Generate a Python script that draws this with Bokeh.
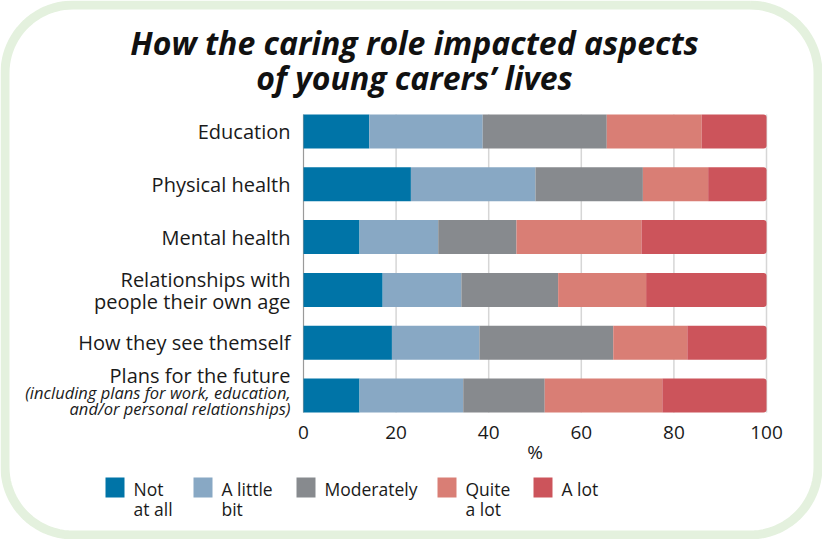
import numpy as np
from bokeh.plotting import figure
from bokeh.models import ColumnDataSource, Range1d
from bokeh.core.properties import value, field
from bokeh.embed import file_html
from bokeh.resources import INLINE

# ---------------- data ----------------
categories = ["Education", "Physical health", "Mental health",
              "Relationships with people their own age",
              "How they see themself", "Plans for the future"]
not_at_all = [14.2, 23.2, 12.1, 17.1, 19.1, 12.1]
a_little_bit = [24.5, 26.9, 17.0, 17.0, 18.9, 22.4]
moderately = [26.8, 23.2, 16.9, 20.9, 28.9, 17.6]
quite_a_lot = [20.5, 14.1, 27.0, 19.0, 16.0, 25.4]
a_lot = [14.0, 12.6, 27.0, 26.0, 17.1, 22.5]
series_keys = ["not_at_all", "a_little_bit", "moderately", "quite_a_lot", "a_lot"]
series_labels = ["Not\nat all", "A little\nbit", "Moderately", "Quite\na lot", "A lot"]
colors = ["#0074a7", "#88a8c4", "#878a8e", "#d97e75", "#cc545b"]
x_ticks = [0, 20, 40, 60, 80, 100]
x_label = "%"
title_lines = ["How the caring role impacted aspects", "of young carers\u2019 lives"]
label_lines = [
    [("Education", "normal")],
    [("Physical health", "normal")],
    [("Mental health", "normal")],
    [("Relationships with", "normal"), ("people their own age", "normal")],
    [("How they see themself", "normal")],
    [("Plans for the future", "normal"),
     ("(including plans for work, education,", "italic"),
     ("and/or personal relationships)", "italic")],
]

# ---------------- layout (pixels inside the 822x539 canvas) ----------------
W, H = 822, 539
FL, FR = 303, 766          # x=0 and x=100
FT, FH = 114, 298          # top of first bar, height of bar block
BAR_H = 0.644
n = len(categories)
y_lo, y_hi = 1 - BAR_H / 2, n + BAR_H / 2
PXX = (FR - FL) / 100.0
PXY = FH / (y_hi - y_lo)
FONT = "Open Sans"
TXT = "#1a1a1a"
LEG_SWATCH_X = [105, 193, 296, 437, 533]   # left edge of each legend swatch (px)
LEG_TOP = 477                               # top of legend swatches (px)
SW = 19


def dx(px):
    return (px - FL) / PXX


def dy(py):
    return y_hi + (FT - py) / PXY


ys = list(range(n, 0, -1))
src = ColumnDataSource(dict(y=ys, not_at_all=not_at_all, a_little_bit=a_little_bit,
                            moderately=moderately, quite_a_lot=quite_a_lot, a_lot=a_lot))

p = figure(width=W, height=H, x_range=Range1d(dx(0), dx(W)), y_range=Range1d(dy(H), dy(0)),
           output_backend="svg", toolbar_location=None,
           x_axis_location=None, y_axis_location=None, min_border=0)
p.outline_line_color = None
p.xgrid.visible = False
p.ygrid.visible = False

# grid lines over the bar block only
p.segment(x0=x_ticks, y0=[y_lo] * len(x_ticks), x1=x_ticks, y1=[y_hi] * len(x_ticks),
          line_color="#d6d6d6", line_width=1.5)
p.segment(x0=[0], y0=[y_lo], x1=[0], y1=[y_hi], line_color="#9a9a9a", line_width=1)

rends = p.hbar_stack(series_keys, y="y", height=BAR_H, color=colors, source=src, line_width=0)
if "border_radius" in rends[-1].glyph.properties():
    rends[-1].glyph.border_radius = (0, 3, 3, 0)

# x tick labels and axis title
p.text(x=x_ticks, y=[dy(432)] * len(x_ticks), text=[str(t) for t in x_ticks],
       text_align="center", text_baseline="middle", text_font=value(FONT),
       text_font_size="19px", text_color=TXT)
p.text(x=[50], y=[dy(451)], text=[x_label], text_align="center", text_baseline="middle",
       text_font=value(FONT), text_font_size="19px", text_color=TXT)

# category labels
offsets = {1: [0.0], 2: [10.5, -11.5], 3: [19.5, 3.0, -13.0]}
lx, ly, lt, ls, lf = [], [], [], [], []
for yc, lines in zip(ys, label_lines):
    for (txt, style), o in zip(lines, offsets[len(lines)]):
        lx.append(dx(FL - 13))
        ly.append(yc + o / PXY)
        lt.append(txt)
        ls.append(style)
        lf.append("20px" if style == "normal" else "16.5px")
lab_src = ColumnDataSource(dict(x=lx, y=ly, text=lt, style=ls, size=lf))
p.text(x="x", y="y", text="text", source=lab_src, text_align="right",
       text_baseline="middle", text_font=value(FONT), text_font_size=field("size"),
       text_font_style=field("style"), text_color=TXT)

# title
p.text(x=[dx(414)] * 2, y=[dy(42), dy(77)], text=title_lines, text_align="center",
       text_baseline="middle", text_font=value(FONT), text_font_size="32px",
       text_font_style="bold italic", text_color="#111111")

# legend (swatch + label whose first line is level with the swatch)
leg_src = ColumnDataSource(dict(
    left=[dx(x) for x in LEG_SWATCH_X], right=[dx(x + SW) for x in LEG_SWATCH_X],
    top=[dy(LEG_TOP)] * 5, bottom=[dy(LEG_TOP + SW + 1)] * 5, color=colors,
    tx=[dx(x + SW + 9) for x in LEG_SWATCH_X], ty=[dy(LEG_TOP - 1)] * 5, text=series_labels))
p.quad(left="left", right="right", top="top", bottom="bottom", color="color",
       line_width=0, source=leg_src)
p.text(x="tx", y="ty", text="text", source=leg_src, text_align="left", text_baseline="top",
       text_font=value(FONT), text_font_size="17.5px", text_color=TXT, text_line_height=0.86)

# rounded border
R = 68
L_, T_, R_, B_ = 4.5, 4.5, W - 4.5, H - 4.5
pts = []
for cx, cy, a0 in [(R_ - R, T_ + R, -90), (R_ - R, B_ - R, 0), (L_ + R, B_ - R, 90), (L_ + R, T_ + R, 180)]:
    for a in np.linspace(a0, a0 + 90, 24):
        r = np.radians(a)
        pts.append((cx + R * np.cos(r), cy + R * np.sin(r)))
pts.append(pts[0])
p.line([dx(x) for x, _ in pts], [dy(y) for _, y in pts], line_color="#e4f1de", line_width=9)

open("out.html", "w").write(file_html(p, INLINE))
